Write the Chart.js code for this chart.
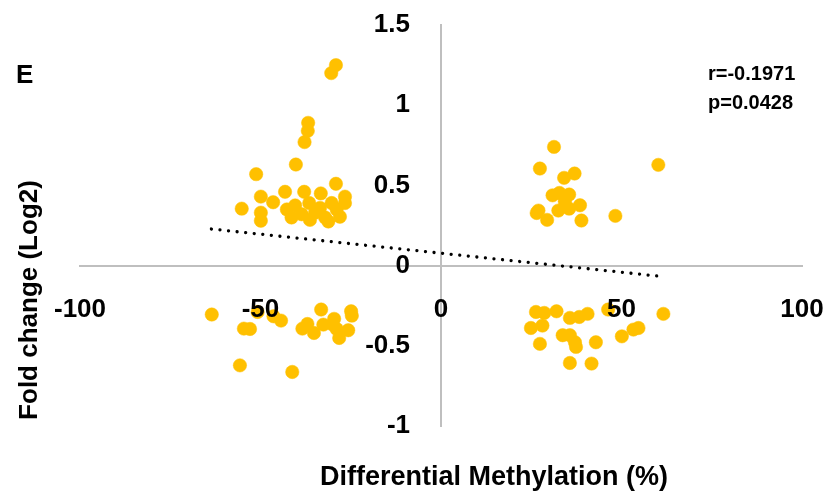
<!DOCTYPE html>
<html>
<head>
<meta charset="utf-8">
<script src="https://cdn.jsdelivr.net/npm/chart.js@4.4.0/dist/chart.umd.min.js"></script>
<style>
  body { margin: 0; background: #fff; }
  #wrap { width: 829px; height: 494px; position: relative; }
</style>
</head>
<body>
<div id="wrap"><canvas id="grafica"></canvas></div>
<script>
// Datos
const difMetilacion = [
  -29.1, -30.4, -36.8, -36.9, -37.8, -40.2, -51.2, -29.1, -43.2, -37.9, -33.3, -49.9, -46.5, -55.2, -49.9, -49.9,
  -42.7, -41.4, -40.4, -38.6, -36.5, -36.3, -34.9, -33.5, -32.1, -31.2, -30.3, -28.9, -28.0, -26.6, -26.6,
  31.3, 27.4, 60.2, 37.0, 34.1, 30.9, 32.8, 35.5, 34.3, 38.5, 27.0, 26.5, 32.5, 35.5, 29.4, 38.9, 48.3,
  -63.5, -50.8, -54.6, -52.9, -46.4, -44.3, -33.2, -24.9, -24.7, -37.0, -38.4, -35.2, -32.6, -29.6, -30.0, -28.9, -28.2, -25.7, -55.7, -41.2,
  26.3, 28.6, 32.0, 35.7, 38.3, 40.6, 46.3, 61.6, 24.9, 28.1, 33.7, 35.7, 37.1, 37.4, 42.9, 27.4, 50.1, 53.3, 54.7, 35.7, 41.7
];
const foldChange = [
  1.25, 1.20, 0.89, 0.84, 0.77, 0.63, 0.57, 0.51, 0.46, 0.46, 0.45, 0.43, 0.395, 0.355, 0.33, 0.28,
  0.35, 0.30, 0.375, 0.32, 0.39, 0.285, 0.33, 0.36, 0.30, 0.275, 0.39, 0.35, 0.305, 0.43, 0.39,
  0.74, 0.605, 0.628, 0.574, 0.547, 0.438, 0.453, 0.443, 0.401, 0.376, 0.343, 0.328, 0.343, 0.355, 0.285, 0.281, 0.31,
  -0.305, -0.289, -0.393, -0.395, -0.316, -0.343, -0.274, -0.285, -0.312, -0.364, -0.393, -0.42, -0.368, -0.332, -0.368, -0.395, -0.451, -0.403, -0.622, -0.663,
  -0.289, -0.295, -0.285, -0.326, -0.32, -0.301, -0.274, -0.301, -0.389, -0.374, -0.434, -0.434, -0.478, -0.507, -0.478, -0.488, -0.441, -0.399, -0.389, -0.607, -0.611
];
// Línea de tendencia
const tendenciaX = [-63.6, 59.9];
const tendenciaY = [0.228, -0.065];
const ticksX = [-100, -50, 0, 50, 100];
const ticksY = [-1, -0.5, 0, 0.5, 1, 1.5];

const tituloX = "Differential Methylation (%)";
const tituloY = "Fold change (Log2)";
const etiquetaPanel = "E";
const estadistica = ["r=-0.1971", "p=0.0428"];

const puntos = difMetilacion.map((x, i) => ({ x: x, y: foldChange[i] }));
const tendencia = tendenciaX.map((x, i) => ({ x: x, y: tendenciaY[i] }));

const FUENTE = '"Liberation Sans", Arial, sans-serif';

// sin relleno extra de las escalas: el área la fija layout.padding
function sinRelleno(scale) {
  scale.paddingLeft = 0;
  scale.paddingRight = 0;
  scale.paddingTop = 0;
  scale.paddingBottom = 0;
}

// textos fuera de los ejes
const textosPlugin = {
  id: 'textos',
  afterDraw(chart) {
    const ctx = chart.ctx;
    ctx.save();
    ctx.fillStyle = '#000';
    ctx.font = 'bold 26px ' + FUENTE;
    ctx.textBaseline = 'middle';
    ctx.textAlign = 'left';
    ctx.fillText(etiquetaPanel, 16, 76);

    ctx.font = 'bold 20px ' + FUENTE;
    ctx.fillText(estadistica[0], 708, 74);
    ctx.fillText(estadistica[1], 708, 103);

    ctx.font = 'bold 27px ' + FUENTE;
    ctx.textAlign = 'center';
    ctx.fillText(tituloX, 494, 478);

    ctx.translate(30, 300);
    ctx.rotate(-Math.PI / 2);
    ctx.font = 'bold 26px ' + FUENTE;
    ctx.fillText(tituloY, 0, 0);
    ctx.restore();
  }
};

new Chart(document.getElementById('grafica').getContext('2d'), {
  type: 'scatter',
  data: {
    datasets: [{
      label: 'Genes',
      data: puntos,
      backgroundColor: '#FFC000',
      borderColor: '#FFC000',
      borderWidth: 0.5,
      pointRadius: 6.7,
      pointHoverRadius: 6.7
    }, {
      label: 'Tendencia',
      data: tendencia,
      showLine: true,
      borderColor: '#000',
      borderWidth: 3.3,
      borderCapStyle: 'round',
      borderDash: [0.01, 8.6],
      pointRadius: 0,
      fill: false
    }]
  },
  options: {
    responsive: true,
    maintainAspectRatio: false,
    animation: false,
    layout: { padding: { left: 80, right: 27, top: 25, bottom: 68 } },
    plugins: {
      legend: { display: false },
      tooltip: { enabled: false }
    },
    scales: {
      x: {
        type: 'linear',
        position: { y: 0 },
        min: ticksX[0],
        max: ticksX[ticksX.length - 1],
        grid: { display: false, drawTicks: false },
        border: { color: '#bfbfbf', width: 2 },
        afterBuildTicks: (scale) => { scale.ticks = ticksX.map(v => ({ value: v })); },
        afterFit: sinRelleno,
        ticks: {
          z: 1,
          autoSkip: false,
          maxRotation: 0,
          padding: 29,
          color: '#000',
          font: { family: FUENTE, size: 26, weight: 'bold' }
        }
      },
      y: {
        type: 'linear',
        position: 'center',
        min: ticksY[0],
        max: ticksY[ticksY.length - 1],
        grid: { display: false, drawTicks: false },
        border: { color: '#bfbfbf', width: 2 },
        afterBuildTicks: (scale) => { scale.ticks = ticksY.map(v => ({ value: v })); },
        afterFit: sinRelleno,
        ticks: {
          z: 1,
          autoSkip: false,
          padding: 31,
          color: '#000',
          callback: (v) => String(v),
          font: { family: FUENTE, size: 26, weight: 'bold' }
        }
      }
    }
  },
  plugins: [textosPlugin]
});
</script>
</body>
</html>
